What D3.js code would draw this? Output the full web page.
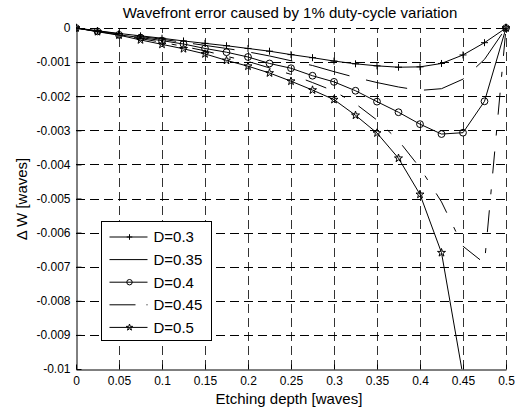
<!DOCTYPE html>
<html>
<head>
<meta charset="utf-8">
<script src="https://cdn.jsdelivr.net/npm/d3@7"></script>
<style>
body{margin:0;background:#fff;}
svg{display:block;font-family:"Liberation Sans",Arial,sans-serif;}
</style>
</head>
<body>
<svg id="chart" width="517" height="412"></svg>
<script>
// etching depth samples [waves]
var depth = [0,0.025,0.05,0.075,0.1,0.125,0.15,0.175,0.2,0.225,0.25,0.275,0.3,0.325,0.35,0.375,0.4,0.425,0.45,0.475,0.5];
// wavefront error per duty cycle D
var d30 = [0,-0.00008,-0.00016,-0.00023,-0.0003,-0.00038,-0.00045,-0.00052,-0.0006,-0.00068,-0.00078,-0.00087,-0.00097,-0.00105,-0.00111,-0.00115,-0.00114,-0.00104,-0.00079,-0.00043,0];
var d35 = [0,-0.00009,-0.00017,-0.00025,-0.00033,-0.00042,-0.00051,-0.0006,-0.0007,-0.00082,-0.00096,-0.0011,-0.00128,-0.00145,-0.0016,-0.00173,-0.00183,-0.00178,-0.0015,-0.00092,0];
var d40 = [0,-0.0001,-0.0002,-0.00028,-0.00037,-0.00047,-0.0006,-0.00071,-0.00085,-0.00104,-0.00118,-0.0014,-0.00158,-0.00184,-0.00216,-0.00247,-0.00282,-0.00311,-0.00307,-0.00215,0];
var d45 = [0,-0.0001,-0.0002,-0.00031,-0.00042,-0.00054,-0.00067,-0.00083,-0.00098,-0.00117,-0.00136,-0.0016,-0.00185,-0.00222,-0.0027,-0.0033,-0.0041,-0.0051,-0.0064,-0.0069,0];
var d50 = [0,-0.00011,-0.00021,-0.00035,-0.00048,-0.00061,-0.00076,-0.00095,-0.00112,-0.00132,-0.00156,-0.00182,-0.0021,-0.00256,-0.00308,-0.00382,-0.00488,-0.00659,-0.0102,null,0];

var labels = ["D=0.3","D=0.35","D=0.4","D=0.45","D=0.5"];
var markers = ["plus","none","circle","none","star"];
var dashes = [null,"42,17",null,"22,16,5,16",null];
var legendDashes = [null,null,null,"26,11,2,20",null];
var xTicks = [0,0.05,0.1,0.15,0.2,0.25,0.3,0.35,0.4,0.45,0.5];
var yTicks = [0,-0.001,-0.002,-0.003,-0.004,-0.005,-0.006,-0.007,-0.008,-0.009,-0.01];

var svg = d3.select("#chart");
var pLeft = 76, pRight = 506, pTop = 28, pBottom = 369;
var x = d3.scaleLinear().domain([0,0.5]).range([pLeft,pRight]);
var y = d3.scaleLinear().domain([-0.01,0]).range([pBottom,pTop]);

var series = [d30,d35,d40,d45,d50].map(function(v,i){
  return {name:labels[i],marker:markers[i],dash:dashes[i],ldash:legendDashes[i],
    pts:depth.map(function(d,j){return {x:d,y:v[j]};})};
});

// grid
var grid = svg.append("g").attr("stroke-width",1).attr("stroke-dasharray","9,5");
grid.selectAll(".gx").data(xTicks.slice(1)).enter().append("line")
  .attr("stroke","#333")
  .attr("x1",function(d){return Math.round(x(d))+0.5;}).attr("x2",function(d){return Math.round(x(d))+0.5;})
  .attr("y1",pBottom).attr("y2",pTop);
grid.selectAll(".gy").data(yTicks.slice(0,-1)).enter().append("line")
  .attr("stroke","#000")
  .attr("y1",function(d){return Math.round(y(d))+0.5;}).attr("y2",function(d){return Math.round(y(d))+0.5;})
  .attr("x1",pLeft).attr("x2",pRight);

// axes (ticks inward)
var xAxis = d3.axisBottom(x).tickValues(xTicks).tickSizeInner(-5).tickSizeOuter(0).tickPadding(7)
  .tickFormat(function(d){return String(+d.toFixed(2));});
var yAxis = d3.axisLeft(y).tickValues(yTicks).tickSizeInner(-5).tickSizeOuter(0).tickPadding(6)
  .tickFormat(function(d){return d===0?"0":String(+d.toFixed(3));});
var gx = svg.append("g").attr("transform","translate(0,"+(pBottom+0.5)+")").call(xAxis);
var gy = svg.append("g").attr("transform","translate("+(pLeft+0.5)+",0)").call(yAxis);
[gx,gy].forEach(function(g){
  g.selectAll("path,line").attr("stroke","#000");
  g.selectAll("text").attr("fill","#000").style("font-size","12px").style("font-family","'Liberation Sans',Arial,sans-serif");
});

// clip
svg.append("clipPath").attr("id","clip").append("rect")
  .attr("x",pLeft).attr("y",pTop-6).attr("width",pRight-pLeft+6).attr("height",pBottom-pTop+6);

var line = d3.line().defined(function(d){return d.y!==null;})
  .x(function(d){return x(d.x);}).y(function(d){return y(d.y);});

var plot = svg.append("g").attr("clip-path","url(#clip)");
plot.selectAll(".series").data(series).enter().append("path")
  .attr("d",function(s){return line(s.pts);})
  .attr("fill","none").attr("stroke","#000").attr("stroke-width",1)
  .attr("stroke-dasharray",function(s){return s.dash;});

function drawMarker(g,type,k){
  var r = 3.5*k;
  if(type==="plus"){
    g.append("path").attr("d","M"+(-r)+",0H"+r+"M0,"+(-r)+"V"+r).attr("stroke","#000").attr("fill","none");
  }else if(type==="circle"){
    g.append("circle").attr("r",3.4*k).attr("stroke","#000").attr("fill","none");
  }else if(type==="star"){
    g.append("path").attr("d",d3.symbol().type(d3.symbolStar).size(20*k*k)())
      .attr("stroke","#000").attr("stroke-width",1).attr("fill","none");
  }
}
series.forEach(function(s){
  if(s.marker==="none") return;
  s.pts.filter(function(p){return p.y!==null && p.y>=-0.01;}).forEach(function(p){
    var g = plot.append("g").attr("transform","translate("+x(p.x)+","+y(p.y)+")");
    drawMarker(g,s.marker,1);
  });
});

// legend
var lg = svg.append("g").attr("transform","translate(101.5,221.5)");
lg.append("rect").attr("width",110).attr("height",119).attr("fill","#fff").attr("stroke","#000");
series.forEach(function(s,i){
  var ly = 15.5 + i*22.6;
  lg.append("line").attr("x1",8).attr("x2",46).attr("y1",ly).attr("y2",ly)
    .attr("stroke","#000").attr("stroke-dasharray",s.ldash);
  var g = lg.append("g").attr("transform","translate(28,"+ly+")");
  drawMarker(g,s.marker,0.8);
  lg.append("text").attr("x",52).attr("y",ly).attr("dy","0.36em")
    .style("font-size","15px").text(s.name);
});

// title and axis labels
svg.append("text").attr("x",290).attr("y",18).attr("text-anchor","middle")
  .style("font-size","15px").text("Wavefront error caused by 1% duty-cycle variation");
svg.append("text").attr("x",289).attr("y",404).attr("text-anchor","middle")
  .style("font-size","15px").text("Etching depth [waves]");
svg.append("text").attr("transform","translate(27,199) rotate(-90)").attr("text-anchor","middle")
  .style("font-size","15px").text("\u0394 W [waves]");
</script>
</body>
</html>
